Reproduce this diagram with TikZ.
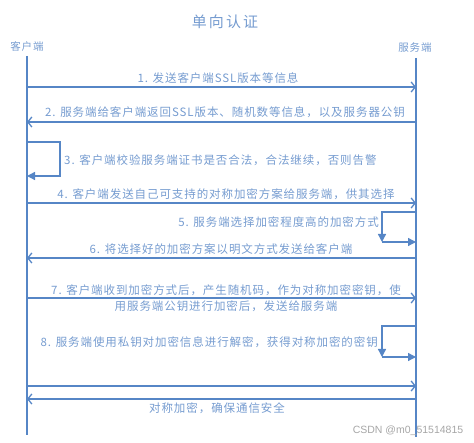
\documentclass[tikz,border=0pt]{standalone}
\usepackage{fontspec}
\newfontfamily\cjk[LetterSpace=8]{Noto Sans CJK SC}
\newfontfamily\cjktitre[LetterSpace=14]{Noto Sans CJK SC}
\newfontfamily\marque{Liberation Sans}
\usetikzlibrary{arrows.meta}
\definecolor{trait}{RGB}{86,134,198}
\definecolor{texte}{RGB}{118,156,208}
\begin{document}
\begin{tikzpicture}[x=1pt,y=-1pt,
    msg/.style={trait, line width=1.3pt, -{Straight Barb[length=4pt,width=10pt]}},
    boucle/.style={trait, line width=1.3pt, -{Triangle[length=8pt,width=8pt]}},
    lbl/.style={texte, font=\cjk\fontsize{11.5}{16}\selectfont, inner sep=1pt, align=center}]
    \useasboundingbox (0,0) rectangle (474,443);

    % Titre et acteurs
    \node[texte, font=\cjktitre\fontsize{15}{17}\selectfont] (titre) at (225,22) {单向认证};
    \node[lbl, font=\cjk\fontsize{10.5}{12}\selectfont] (client) at (27,46) {客户端};
    \node[lbl, font=\cjk\fontsize{10.5}{12}\selectfont] (serveur) at (415,48) {服务端};

    % Lignes de vie
    \coordinate (ctop) at (27,56);
    \coordinate (cbot) at (27,435);
    \coordinate (stop) at (416,58);
    \coordinate (sbot) at (416,437);
    \draw[trait, line width=1.3pt] (ctop) -- (cbot);
    \draw[trait, line width=1.3pt] (stop) -- (sbot);

    % Points d'accroche des messages
    \foreach \n/\y in {1/87,2/122,4/203,6/258,7/298,9/386,10/399}{
      \coordinate (c\n) at (27,\y);
      \coordinate (s\n) at (416,\y);
    }

    \draw[msg] (c1) -- (s1);
    \node[lbl] (m1) at (218,78) {1. 发送客户端SSL版本等信息};

    \draw[msg] (s2) -- (c2);
    \node[lbl] (m2) at (225,112) {2. 服务端给客户端返回SSL版本、随机数等信息，以及服务器公钥};

    % Boucle du client
    \coordinate (b3a) at (27,142);
    \coordinate (b3b) at (60,176);
    \coordinate (b3c) at (27,176);
    \draw[boucle] (b3a) -| (b3b) -- (b3c);
    \node[lbl, anchor=west] (m3) at (63,160) {3. 客户端校验服务端证书是否合法，合法继续，否则告警};

    \draw[msg] (c4) -- (s4);
    \node[lbl] (m4) at (226,194) {4. 客户端发送自己可支持的对称加密方案给服务端，供其选择};

    % Boucle du serveur
    \coordinate (b5a) at (416,212);
    \coordinate (b5b) at (382,242);
    \coordinate (b5c) at (416,242);
    \draw[boucle] (b5a) -| (b5b);
    \draw[boucle] (b5b) -- (b5c);
    \node[lbl, anchor=east] (m5) at (380,222) {5. 服务端选择加密程度高的加密方式};

    \draw[msg] (s6) -- (c6);
    \node[lbl] (m6) at (221,249) {6. 将选择好的加密方案以明文方式发送给客户端};

    \draw[msg] (c7) -- (s7);
    \node[lbl] (m7) at (226,298) {7. 客户端收到加密方式后，产生随机码，作为对称加密密钥，使\\用服务端公钥进行加密后，发送给服务端};

    \coordinate (b8a) at (416,326);
    \coordinate (b8b) at (382,357);
    \coordinate (b8c) at (416,357);
    \draw[boucle] (b8a) -| (b8b);
    \draw[boucle] (b8b) -- (b8c);
    \node[lbl, anchor=east] (m8) at (379,342) {8. 服务端使用私钥对加密信息进行解密，获得对称加密的密钥};

    % Echange chiffre
    \draw[msg] (c9) -- (s9);
    \draw[msg] (s10) -- (c10);
    \node[lbl] (m10) at (217,408) {对称加密，确保通信安全};

    \node[gray!70, font=\marque\fontsize{10.5}{12}\selectfont, inner sep=0pt] (csdn) at (408,431) {CSDN @m0\_51514815};
\end{tikzpicture}
\end{document}
